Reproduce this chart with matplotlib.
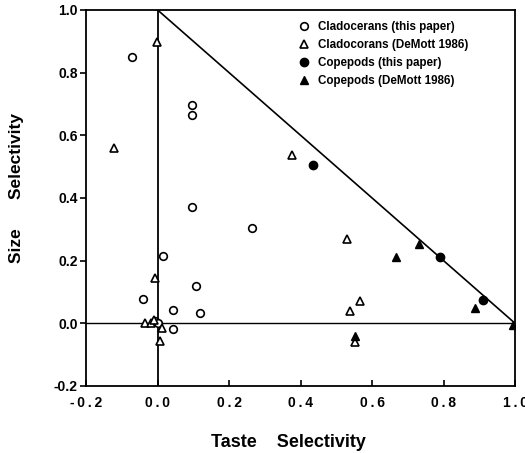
import matplotlib
matplotlib.use("Agg")
import matplotlib.pyplot as plt

plt.rcParams['font.family'] = ['Liberation Sans', 'DejaVu Sans']
plt.rcParams['font.weight'] = 'bold'

# Cladocerans (this paper) - open circles
clad_this_x = [-0.072, 0.095, 0.095, 0.095, 0.265, 0.015, 0.108, -0.040, 0.042, 0.120, 0.042, -0.008, 0.001]
clad_this_y = [0.851, 0.696, 0.665, 0.372, 0.303, 0.214, 0.118, 0.077, 0.042, 0.034, -0.017, 0.007, 0.002]

# Cladocerans (DeMott 1986) - open triangles
clad_demott_x = [-0.003, -0.122, 0.376, 0.530, 0.567, 0.539, 0.551, -0.008, -0.036, -0.018, -0.010, 0.013, 0.008]
clad_demott_y = [0.899, 0.560, 0.537, 0.270, 0.071, 0.038, -0.060, 0.145, 0.000, 0.001, 0.012, -0.014, -0.056]

# Copepods (this paper) - filled circles
cope_this_x = [0.434, 0.790, 0.911]
cope_this_y = [0.505, 0.212, 0.073]

# Copepods (DeMott 1986) - filled triangles
cope_demott_x = [0.668, 0.730, 0.888, 0.993, 0.551]
cope_demott_y = [0.212, 0.252, 0.050, -0.006, -0.042]

x_ticks = [-0.2, 0.0, 0.2, 0.4, 0.6, 0.8, 1.0]
y_ticks = [-0.2, 0.0, 0.2, 0.4, 0.6, 0.8, 1.0]

fig = plt.figure(figsize=(5.25, 4.53), dpi=100)
ax = fig.add_axes([0.164, 0.148, 0.817, 0.830])

# reference lines: axes through origin and the 1:1 trade-off diagonal
ax.plot([0, 0], [-0.2, 1.0], color='black', lw=1.3, zorder=1)
ax.plot([-0.2, 1.0], [0, 0], color='black', lw=1.0, zorder=1)
ax.plot([0, 1.0], [1.0, 0], color='black', lw=1.2, zorder=1)

ax.plot(clad_this_x, clad_this_y, linestyle='none', marker='o', ms=5.5,
        mfc='white', mec='black', mew=1.2, label='Cladocerans (this paper)', zorder=3)
ax.plot(clad_demott_x, clad_demott_y, linestyle='none', marker='^', ms=5.5,
        mfc='white', mec='black', mew=1.2, label='Cladocorans (DeMott 1986)', zorder=3)
ax.plot(cope_this_x, cope_this_y, linestyle='none', marker='o', ms=6,
        mfc='black', mec='black', label='Copepods (this paper)', zorder=3)
ax.plot(cope_demott_x, cope_demott_y, linestyle='none', marker='^', ms=6,
        mfc='black', mec='black', label='Copepods (DeMott 1986)', zorder=3)

ax.set_xlim(-0.2, 1.0)
ax.set_ylim(-0.2, 1.0)
ax.set_xticks(x_ticks)
ax.set_yticks(y_ticks)


def spaced(v):
    # letter-spaced tick text, e.g. "- 0 . 2"
    return '\u2009'.join(f"{v:.1f}")


ax.set_xticklabels([spaced(v) for v in x_ticks], fontsize=10, fontweight='bold')
ax.set_yticklabels([f"{v:.1f}" for v in y_ticks], fontsize=10, fontweight='bold')
ax.tick_params(axis='x', direction='in', length=4, width=1.2, pad=7)
ax.tick_params(axis='y', direction='out', length=4, width=1.2, pad=2)
for s in ax.spines.values():
    s.set_linewidth(1.3)

ax.set_xlabel('Taste    Selectivity', fontsize=13, fontweight='bold')
ax.set_ylabel('Size      Selectivity', fontsize=12.5, fontweight='bold')
ax.xaxis.set_label_coords(0.471, -0.128)
ax.yaxis.set_label_coords(-0.145, 0.527)

leg = ax.legend(loc='upper right', bbox_to_anchor=(0.91, 0.992), frameon=False,
                fontsize=8.4, handletextpad=0.7, labelspacing=0.5,
                handlelength=1.0, borderaxespad=0.3)
for t in leg.get_texts():
    t.set_fontweight('bold')

fig.savefig('out.png', dpi=100)
